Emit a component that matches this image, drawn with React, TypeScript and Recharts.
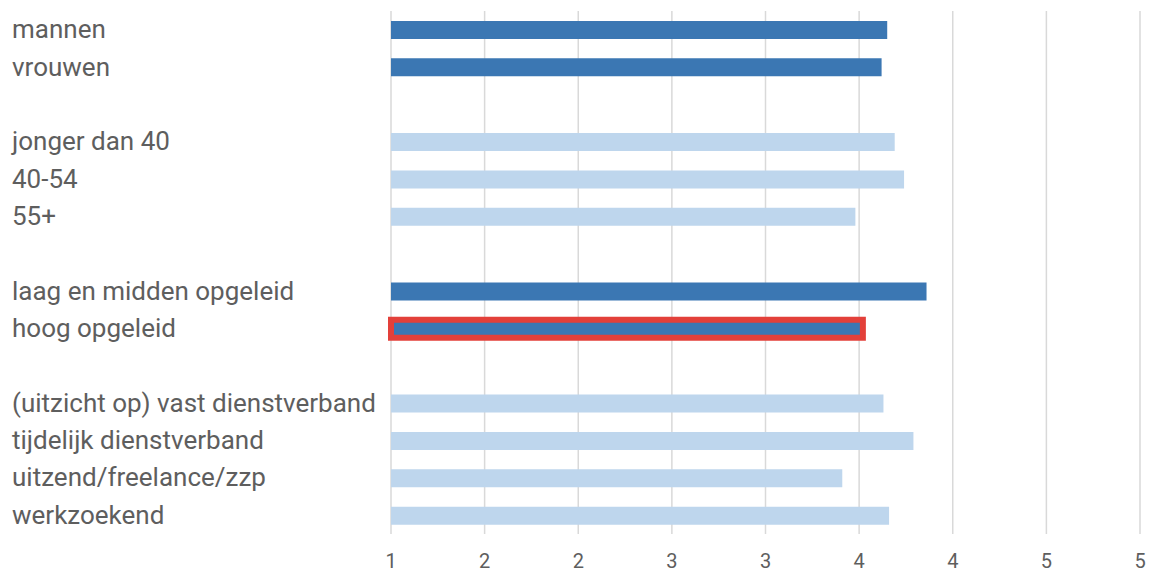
import React from "react";
import { BarChart, Bar, XAxis, YAxis, CartesianGrid, Cell } from "recharts";

const categories = [
  "mannen",
  "vrouwen",
  "",
  "jonger dan 40",
  "40-54",
  "55+",
  "",
  "laag en midden opgeleid",
  "hoog opgeleid",
  "",
  "(uitzicht op) vast dienstverband",
  "tijdelijk dienstverband",
  "uitzend/freelance/zzp",
  "werkzoekend",
];

const values: (number | null)[] = [
  3.65, 3.62, null, 3.69, 3.74, 3.48, null, 3.86, 3.52, null, 3.63, 3.79, 3.41, 3.66,
];

const shades = [
  "dark", "dark", "", "light", "light", "light", "", "dark", "dark", "", "light", "light", "light", "light",
];

const highlighted = [8];

const xTicks = [1, 1.5, 2, 2.5, 3, 3.5, 4, 4.5, 5];
const xTickLabels = ["1", "2", "2", "3", "3", "4", "4", "5", "5"];

const DARK = "#3b77b3";
const LIGHT = "#bed6ed";
const RED = "#e3403a";
const TEXT = "#5e5e5e";
const FONT = "Roboto, 'Open Sans', sans-serif";

const data = categories.map((name, i) => ({
  key: `r${i}`,
  name,
  value: values[i],
}));

const YTick = (props: any) => {
  const { y, index } = props;
  const label = categories[index] ?? "";
  return (
    <text x={12} y={y} dy={8.5} fontSize={26} fill={TEXT} fontFamily={FONT} textAnchor="start">
      {label}
    </text>
  );
};

const XTick = (props: any) => {
  const { x, y, payload } = props;
  const idx = xTicks.indexOf(payload.value);
  return (
    <text x={x} y={y} dy={26} fontSize={20} fill={TEXT} fontFamily={FONT} textAnchor="middle">
      {idx >= 0 ? xTickLabels[idx] : ""}
    </text>
  );
};

export default function App() {
  return (
    <div style={{ position: "absolute", left: 0, top: 0, width: 1163, height: 573, background: "#fff" }}>
      <BarChart
        width={1163}
        height={573}
        data={data}
        layout="vertical"
        margin={{ top: 11, right: 23, bottom: 0, left: 0 }}
        barCategoryGap={0}
      >
        <CartesianGrid horizontal={false} vertical={true} stroke="#d9d9d9" strokeWidth={1.5} />
        <XAxis
          type="number"
          domain={[1, 5]}
          ticks={xTicks}
          axisLine={false}
          tickLine={false}
          height={39}
          tick={<XTick />}
          interval={0}
        />
        <YAxis
          type="category"
          dataKey="key"
          width={391}
          axisLine={false}
          tickLine={false}
          interval={0}
          tick={<YTick />}
        />
        <Bar dataKey="value" barSize={18} isAnimationActive={false}>
          {data.map((d, i) => {
            const hl = highlighted.includes(i);
            return (
              <Cell
                key={d.key}
                fill={shades[i] === "dark" ? DARK : LIGHT}
                stroke={hl ? RED : "none"}
                strokeWidth={hl ? 6 : 0}
              />
            );
          })}
        </Bar>
      </BarChart>
    </div>
  );
}
